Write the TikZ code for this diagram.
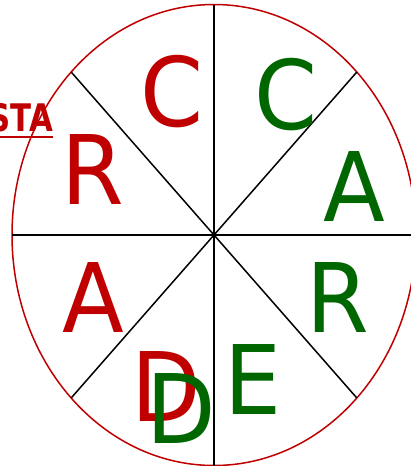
\documentclass[tikz,border=0pt]{standalone}
\usepackage{fontspec}
\setmainfont{DejaVu Sans}
\newfontfamily\tagfont[FakeStretch=0.81]{DejaVu Sans}
\newfontfamily\letterfont[FakeStretch=0.94]{DejaVu Sans}
\usetikzlibrary{calc}
\definecolor{wheelred}{RGB}{192,0,0}
\definecolor{wheelgreen}{RGB}{0,102,0}
\tikzset{
  rim/.style={
    draw=wheelred,
    line width=1.5pt
  },
  spoke/.style={
    draw=black,
    line width=1.5pt
  },
  big letter/.style={
    inner sep=0pt,
    anchor=base,
    font=\letterfont\fontsize{96}{96}\selectfont
  },
  red letter/.style={
    big letter,
    text=wheelred
  },
  green letter/.style={
    big letter,
    text=wheelgreen
  },
  tag label/.style={
    inner sep=0pt,
    outer sep=0pt,
    anchor=base east,
    text=wheelred,
    font=\tagfont\bfseries\fontsize{38}{38}\selectfont
  }
}

\begin{document}
\begin{tikzpicture}[x=1pt, y=-1pt]
  \pgfmathsetmacro{\rx}{202}    % 椭圆横半径
  \pgfmathsetmacro{\ry}{230.5}  % 椭圆纵半径
  \useasboundingbox (0,0) rectangle (411,466);
  \clip (0,0) rectangle (411,466);

  %% ---- 轮廓与分割线 ----
  \coordinate (O) at (214,235);
  \draw[rim] (O) ellipse [x radius=\rx, y radius=\ry];
  \foreach \a in {0,45,...,315} {
    \coordinate (S\a) at ($(O)+({\rx*cos(\a)},{\ry*sin(\a)})$);
  }
  \foreach \a in {0,45,...,315} { \draw[spoke] (O)--(S\a); }

  %% ---- 红色字母 ----
  \node[red letter] (cRed) at (172.5,126) {C};
  \node[red letter] (rRed) at (92.5,204)  {R};
  \node[red letter] (aRed) at (93,332)    {A};
  \node[red letter] (dRed) at (166,421)   {D};

  %% ---- 绿色字母 ----
  \node[green letter] (cGreen) at (286.5,129) {C};
  \node[green letter] (aGreen) at (354.5,221) {A};
  \node[green letter] (rGreen) at (338,332)   {R};
  \node[green letter] (eGreen) at (253.5,414) {E};
  \node[green letter] (dGreen) at (181,443)   {D};

  %% ---- 左上标签 ----
  \node[tag label] (tag) at (53,131) {STA};
  \draw[wheelred, line width=2.2pt] ([yshift=-6pt]tag.base west) -- ([yshift=-6pt]tag.base east);

\end{tikzpicture}
\end{document}
